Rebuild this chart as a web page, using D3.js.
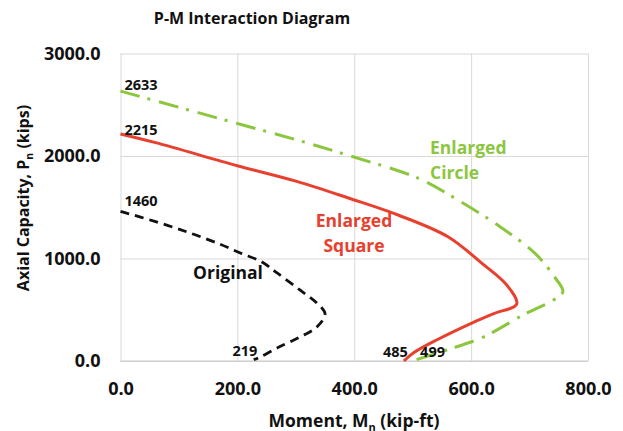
<!DOCTYPE html>
<html>
<head>
<meta charset="utf-8">
<script src="https://cdn.jsdelivr.net/npm/d3@7"></script>
<style>
  body { margin: 0; background: #fff; }
  text { font-family: "Open Sans", sans-serif; font-weight: 700; }
</style>
</head>
<body>
<div id="chart"></div>
<script>
const xTicks = [0, 200, 400, 600, 800];
const yTicks = [0, 1000, 2000, 3000];

// [moment kip-ft, axial kips]
const originalPoints = [
    [0, 1460], [60, 1360], [119, 1249], [170, 1140], [205, 1054], [242, 966],
    [268, 859], [307, 693], [336, 566], [350, 459], [336, 332], [307, 234],
    [268, 127], [239, 39], [228, 12]
];
const squarePoints = [
    [0, 2215], [60, 2130], [200, 1905], [300, 1755], [390, 1590], [476, 1422],
    [561, 1210], [617, 960], [661, 741], [678, 556], [640, 465], [603, 375],
    [541, 205], [501, 78], [485, 0]
];
const circlePoints = [
    [0, 2633], [100, 2475], [200, 2317], [300, 2160], [390, 2006], [510, 1782],
    [578, 1568], [646, 1324], [709, 1052], [743, 818], [757, 676], [741, 595],
    [689, 449], [621, 234], [558, 107], [499, 0]
];

const pointLabels = [
    { text: "2633", m: 0, p: 2633, dx: 4, dy: -1 },
    { text: "2215", m: 0, p: 2215, dx: 4, dy: 1 },
    { text: "1460", m: 0, p: 1460, dx: 4, dy: -5 },
    { text: "219", m: 219, p: 0, dx: -16, dy: -5 },
    { text: "485", m: 485, p: 0, dx: -21, dy: -4 },
    { text: "499", m: 499, p: 0, dx: 8, dy: -4 }
];

const width = 623;
const height = 431;
const margin = { top: 53.5, left: 120.5, right: 35, bottom: 70 };
const innerWidth = width - margin.left - margin.right;
const innerHeight = height - margin.top - margin.bottom;

const green = "#8cc63f";
const red = "#e8402f";

const xScale = d3.scaleLinear().domain([0, 800]).range([0, innerWidth]);
const yScale = d3.scaleLinear().domain([0, 3000]).range([innerHeight, 0]);

const svg = d3.select("#chart")
    .append("svg")
    .attr("width", width)
    .attr("height", height);

svg.append("text")
    .attr("x", 252)
    .attr("y", 24)
    .attr("text-anchor", "middle")
    .style("font-size", "16px")
    .attr("fill", "#111")
    .text("P-M Interaction Diagram");

const group = svg.append("g")
    .attr("transform", `translate(${margin.left}, ${margin.top})`);

// grid
group.append("g")
    .call(d3.axisBottom(xScale).tickValues(xTicks).tickSize(-innerHeight).tickFormat(""))
    .attr("transform", `translate(0, ${innerHeight})`)
    .call(g => g.select(".domain").remove())
    .call(g => g.selectAll(".tick line").attr("stroke", "#d9d9d9"));
group.append("g")
    .call(d3.axisLeft(yScale).tickValues(yTicks).tickSize(-innerWidth).tickFormat(""))
    .call(g => g.select(".domain").remove())
    .call(g => g.selectAll(".tick line").attr("stroke", "#d9d9d9"));
group.append("line")
    .attr("x1", 0).attr("x2", innerWidth)
    .attr("y1", innerHeight).attr("y2", innerHeight)
    .attr("stroke", "#c8c8c8");

// tick labels
group.append("g")
    .attr("transform", `translate(0, ${innerHeight})`)
    .call(d3.axisBottom(xScale).tickValues(xTicks).tickSize(0).tickPadding(21).tickFormat(d3.format(".1f")))
    .call(g => g.select(".domain").remove())
    .call(g => g.selectAll(".tick text")
        .style("font-family", "'Open Sans', sans-serif")
        .style("font-weight", "700")
        .style("font-size", "18px")
        .attr("fill", "#111"));
group.append("g")
    .call(d3.axisLeft(yScale).tickValues(yTicks).tickSize(0).tickPadding(20).tickFormat(d3.format(".1f")))
    .call(g => g.select(".domain").remove())
    .call(g => g.selectAll(".tick text")
        .style("font-family", "'Open Sans', sans-serif")
        .style("font-weight", "700")
        .style("font-size", "18px")
        .attr("fill", "#111"));

// axis titles
const xTitle = svg.append("text")
    .attr("x", 354)
    .attr("y", 427)
    .attr("text-anchor", "middle")
    .style("font-size", "17.5px")
    .attr("fill", "#111");
xTitle.append("tspan").text("Moment, M");
xTitle.append("tspan").attr("dy", 4).style("font-size", "11px").text("n");
xTitle.append("tspan").attr("dy", -4).text(" (kip-ft)");

const yTitle = svg.append("text")
    .attr("transform", "translate(29, 198) rotate(-90)")
    .attr("text-anchor", "middle")
    .style("font-size", "16px")
    .attr("fill", "#111");
yTitle.append("tspan").text("Axial Capacity, P");
yTitle.append("tspan").attr("dy", 4).style("font-size", "10.5px").text("n");
yTitle.append("tspan").attr("dy", -4).text(" (kips)");

// curves
const smoothLine = d3.line()
    .x(d => xScale(d[0]))
    .y(d => yScale(d[1]))
    .curve(d3.curveCatmullRom.alpha(0.5));

group.append("path")
    .attr("d", smoothLine(circlePoints))
    .attr("fill", "none")
    .attr("stroke", green)
    .attr("stroke-width", 3)
    .attr("stroke-dasharray", "20,8,3,9");

group.append("path")
    .attr("d", smoothLine(squarePoints))
    .attr("fill", "none")
    .attr("stroke", red)
    .attr("stroke-width", 3)
    .attr("stroke-linejoin", "round");

group.append("path")
    .attr("d", smoothLine(originalPoints))
    .attr("fill", "none")
    .attr("stroke", "#111")
    .attr("stroke-width", 2.8)
    .attr("stroke-dasharray", "9,6");

// value labels
group.selectAll(".point-label")
    .data(pointLabels)
    .join("text")
    .attr("class", "point-label")
    .attr("x", d => xScale(d.m) + d.dx)
    .attr("y", d => yScale(d.p) + d.dy)
    .style("font-size", "14.5px")
    .attr("fill", "#111")
    .text(d => d.text);

// series labels
const seriesLabels = [
    { lines: ["Enlarged", "Circle"], x: 430, y: 154, anchor: "start", color: green },
    { lines: ["Enlarged", "Square"], x: 354, y: 227, anchor: "middle", color: red },
    { lines: ["Original"], x: 228, y: 279, anchor: "middle", color: "#111" }
];
seriesLabels.forEach(label => {
    const t = svg.append("text")
        .attr("x", label.x)
        .attr("y", label.y)
        .attr("text-anchor", label.anchor)
        .attr("fill", label.color)
        .style("font-size", "17.5px");
    label.lines.forEach((line, i) => {
        t.append("tspan")
            .attr("x", label.x)
            .attr("dy", i === 0 ? 0 : 25)
            .text(line);
    });
});
</script>
</body>
</html>
